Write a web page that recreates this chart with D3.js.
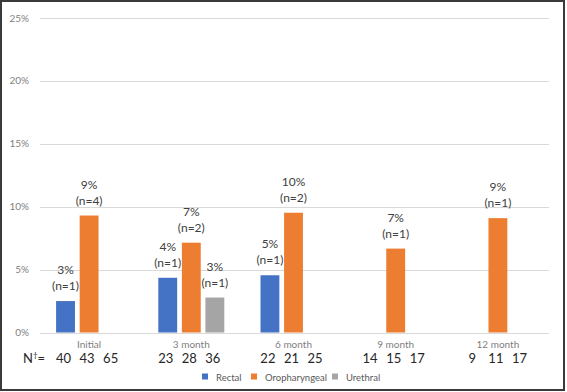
<!DOCTYPE html>
<html lang="en">
<head>
<meta charset="utf-8">
<title>Positivity by visit</title>
<script src="https://cdn.jsdelivr.net/npm/d3@7"></script>
<style>
  body { margin: 0; background: #fff; }
  svg { display: block; font-family: Lato, "Open Sans", sans-serif; }
  .grid line { stroke: #d9d9d9; stroke-width: 1; }
  .ytick { fill: #7f7f7f; font-size: 10px; }
</style>
</head>
<body>
<script>
// visits and series (percent positive)
var visits = ["Initial", "3 month", "6 month", "9 month", "12 month"];
var series = ["Rectal", "Oropharyngeal", "Urethral"];
var rectal = [2.5, 4.35, 4.55, null, null];
var oropharyngeal = [9.3, 7.14, 9.52, 6.67, 9.09];
var urethral = [null, 2.78, null, null, null];
var pctLabels = [["3%", "9%", null], ["4%", "7%", "3%"], ["5%", "10%", null], [null, "7%", null], [null, "9%", null]];
var nLabels = [["(n=1)", "(n=4)", null], ["(n=1)", "(n=2)", "(n=1)"], ["(n=1)", "(n=2)", null], [null, "(n=1)", null], [null, "(n=1)", null]];
var nTotals = [[40, 43, 65], [23, 28, 36], [22, 21, 25], [14, 15, 17], [9, 11, 17]];
var yTicks = [0, 5, 10, 15, 20, 25];
var colors = ["#4472c4", "#ed7d31", "#a5a5a5"];

var w = 567, h = 392;
var plotLeft = 38, plotRight = 549, plotTop = 18, plotBottom = 332.5;

var svg = d3.select("body").append("svg")
    .attr("width", w)
    .attr("height", h);

// frame
svg.append("rect")
   .attr("x", 1).attr("y", 1)
   .attr("width", w - 4).attr("height", h - 3)
   .attr("fill", "none")
   .attr("stroke", "#3a3a3a")
   .attr("stroke-width", 2);

var x0 = d3.scaleBand()
    .domain(visits)
    .range([plotLeft, plotRight]);

var x1 = d3.scaleBand()
    .domain(d3.range(series.length))
    .range([x0.bandwidth() / 2 - 33, x0.bandwidth() / 2 + 33])
    .paddingInner(0.2);

var y = d3.scaleLinear()
    .domain([0, 25])
    .range([plotBottom, plotTop]);

// gridlines
svg.append("g").attr("class", "grid")
   .selectAll("line")
   .data(yTicks)
   .enter().append("line")
   .attr("x1", plotLeft + 2).attr("x2", plotRight)
   .attr("y1", function(d) { return Math.round(y(d)) + 0.5; })
   .attr("y2", function(d) { return Math.round(y(d)) + 0.5; });

svg.selectAll("text.ytick")
   .data(yTicks)
   .enter().append("text")
   .attr("class", "ytick")
   .attr("x", 29)
   .attr("y", function(d) { return y(d) + 3.5; })
   .attr("text-anchor", "end")
   .text(function(d) { return d + "%"; });

var data = [rectal, oropharyngeal, urethral];

var groups = svg.selectAll("g.visit")
    .data(visits)
    .enter().append("g")
    .attr("class", "visit")
    .attr("transform", function(d) { return "translate(" + x0(d) + ",0)"; });

groups.each(function(v, i) {
    var g = d3.select(this);
    var cells = series.map(function(s, j) {
        return { j: j, value: data[j][i], pct: pctLabels[i][j], n: nLabels[i][j] };
    }).filter(function(d) { return d.value != null; });

    g.selectAll("rect")
     .data(cells)
     .enter().append("rect")
     .attr("x", function(d) { return x1(d.j); })
     .attr("y", function(d) { return y(d.value); })
     .attr("width", x1.bandwidth())
     .attr("height", function(d) { return y(0) - y(d.value); })
     .attr("fill", function(d) { return colors[d.j]; });

    g.selectAll("text.pct")
     .data(cells)
     .enter().append("text")
     .attr("class", "pct")
     .attr("x", function(d) { return x1(d.j) + x1.bandwidth() / 2; })
     .attr("y", function(d) { return y(d.value) - 27; })
     .attr("text-anchor", "middle")
     .attr("font-size", "12px")
     .attr("fill", "#404040")
     .text(function(d) { return d.pct; });

    g.selectAll("text.n")
     .data(cells)
     .enter().append("text")
     .attr("class", "n")
     .attr("x", function(d) { return x1(d.j) + x1.bandwidth() / 2; })
     .attr("y", function(d) { return y(d.value) - 11; })
     .attr("text-anchor", "middle")
     .attr("font-size", "12px")
     .attr("fill", "#404040")
     .text(function(d) { return d.n; });

    // category label
    g.append("text")
     .attr("x", x0.bandwidth() / 2)
     .attr("y", 348)
     .attr("text-anchor", "middle")
     .attr("font-size", "10px")
     .attr("fill", "#7f7f7f")
     .text(v);

    // N totals
    g.selectAll("text.ntot")
     .data(nTotals[i])
     .enter().append("text")
     .attr("class", "ntot")
     .attr("x", function(d, j) { return x1(j) + x1.bandwidth() / 2 - 2; })
     .attr("y", 363)
     .attr("text-anchor", "middle")
     .attr("font-size", "13px")
     .attr("fill", "#262626")
     .text(function(d) { return d; });
});

var nLabel = svg.append("text")
   .attr("x", 23)
   .attr("y", 363)
   .attr("font-size", "13px")
   .attr("fill", "#262626");
nLabel.append("tspan").text("N");
nLabel.append("tspan").attr("font-size", "8px").attr("dy", -5).text("\u2020");
nLabel.append("tspan").attr("dy", 5).text("=");

// legend
var legendX = [202, 251, 332];
var legend = svg.selectAll("g.legend")
    .data(series)
    .enter().append("g")
    .attr("class", "legend")
    .attr("transform", function(d, i) { return "translate(" + legendX[i] + ",377)"; });

legend.append("rect")
   .attr("x", 0).attr("y", -3.5)
   .attr("width", 6).attr("height", 6)
   .attr("fill", function(d, i) { return colors[i]; });

legend.append("text")
   .attr("x", 14)
   .attr("y", 3.5)
   .attr("font-size", "9.5px")
   .attr("fill", "#595959")
   .text(function(d) { return d; });
</script>
</body>
</html>
